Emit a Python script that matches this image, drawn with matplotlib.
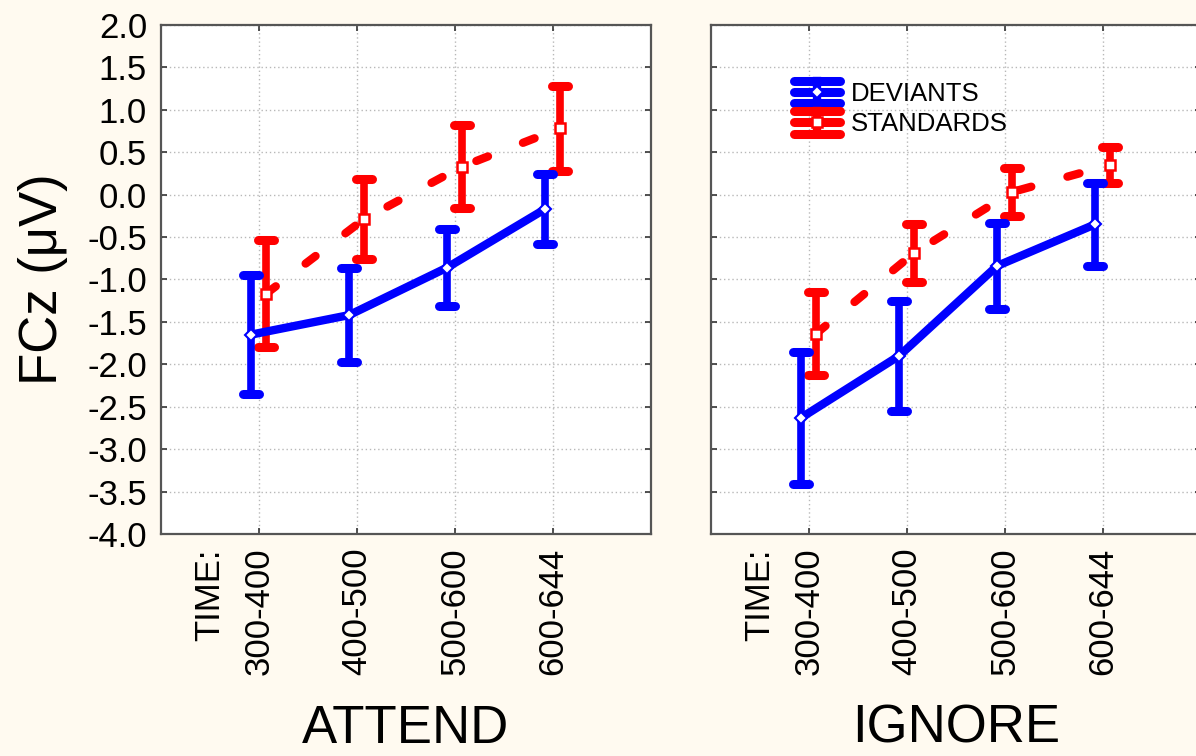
import matplotlib
matplotlib.use('Agg')
import matplotlib.pyplot as plt
from matplotlib.lines import Line2D
from matplotlib.markers import MarkerStyle
from matplotlib.legend_handler import HandlerBase

plt.rcParams['font.family'] = ['Liberation Sans', 'DejaVu Sans']
plt.rcParams['axes.unicode_minus'] = False
plt.rcParams['lines.scale_dashes'] = False

# ---- data ----
times = ['300-400', '400-500', '500-600', '600-644']
y_ticks = [-4.0, -3.5, -3.0, -2.5, -2.0, -1.5, -1.0, -0.5, 0.0, 0.5, 1.0, 1.5, 2.0]

attend_dev_mean = [-1.65, -1.42, -0.86, -0.17]
attend_dev_err = [0.70, 0.55, 0.45, 0.41]
attend_std_mean = [-1.17, -0.29, 0.33, 0.78]
attend_std_err = [0.63, 0.47, 0.49, 0.50]

ignore_dev_mean = [-2.63, -1.90, -0.84, -0.35]
ignore_dev_err = [0.78, 0.65, 0.51, 0.49]
ignore_std_mean = [-1.64, -0.69, 0.03, 0.35]
ignore_std_err = [0.49, 0.34, 0.28, 0.21]

BG = '#FFFAF0'
BLUE = '#0000FF'
RED = '#FF0000'
LW = 6
ELW = 5.5
DEV_SHIFT = -0.08
STD_SHIFT = 0.07


class ErrHandler(HandlerBase):
    """Legend glyph: horizontal line with caps above/below, like the original."""
    def create_artists(self, legend, orig_handle, xdescent, ydescent,
                       width, height, fontsize, trans):
        c = orig_handle.get_color()
        x0, x1 = -xdescent + 2, -xdescent + width - 2
        yc = -ydescent + height / 2
        h = height * 0.62
        xm = (x0 + x1) / 2
        arts = []
        for yy in (yc - h, yc, yc + h):
            arts.append(Line2D([x0, x1], [yy, yy], color=c, lw=6.5,
                               solid_capstyle='round', transform=trans))
        arts.append(Line2D([xm, xm], [yc - h, yc + h], color=c, lw=6,
                           transform=trans))
        arts.append(Line2D([xm], [yc], marker=orig_handle.get_marker(),
                           ms=orig_handle.get_markersize(), mfc='white',
                           mec=c, mew=orig_handle.get_markeredgewidth(),
                           ls='none', transform=trans))
        return arts


def draw_series(ax, means, errs, shift, color, marker, ms, mew, dashed, z):
    xs = [i + shift for i in range(len(means))]
    eb = ax.errorbar(xs, means, yerr=errs, fmt='none', ecolor=color,
                     elinewidth=ELW, capsize=6, capthick=6.5, zorder=z)
    for cl in eb[1]:
        cl.set_marker(MarkerStyle('_', capstyle='round'))
    if dashed:
        ln, = ax.plot(xs, means, color=color, lw=LW, zorder=z,
                      dash_capstyle='round')
        ln.set_dashes((9, 27))
    else:
        ax.plot(xs, means, color=color, lw=LW, zorder=z,
                solid_capstyle='round', solid_joinstyle='round')
    ax.plot(xs, means, ls='none', marker=marker, ms=ms, mfc='white',
            mec=color, mew=mew, zorder=z + 0.5)


def style_axes(ax, title, show_ylabels):
    ax.set_facecolor('white')
    ax.set_xlim(-1, 4)
    ax.set_ylim(-4, 2)
    ax.set_yticks(y_ticks)
    ax.set_yticklabels([f'{v:.1f}' for v in y_ticks] if show_ylabels else [])
    ax.set_xticks(range(len(times)))
    ax.set_xticklabels(times, rotation=90, va='top')
    ax.tick_params(direction='in', length=4.5, width=1.2, color='#333333',
                   top=True, right=True, labelsize=25, pad=10)
    ax.grid(True, ls=(0, (1, 2)), color='#b8b8b8', lw=1, zorder=0)
    ax.set_axisbelow(True)
    for sp in ax.spines.values():
        sp.set_color('#555555')
        sp.set_linewidth(1.6)
    ax.text(-0.5, -0.028, 'TIME:', transform=ax.get_xaxis_transform(),
            rotation=90, ha='center', va='top', fontsize=25)
    ax.text(0.5, -0.41, title, transform=ax.transAxes, ha='center',
            va='baseline', fontsize=38)


fig = plt.figure(figsize=(11.96, 7.56), dpi=100, facecolor=BG)
ax1 = fig.add_axes([0.1346, 0.2937, 0.4097, 0.6733])
ax2 = fig.add_axes([0.5945, 0.2937, 0.4097, 0.6733])

draw_series(ax1, attend_std_mean, attend_std_err, STD_SHIFT, RED, 's', 7, 1.8, True, 3)
draw_series(ax1, attend_dev_mean, attend_dev_err, DEV_SHIFT, BLUE, 'D', 6, 1.5, False, 4)
draw_series(ax2, ignore_std_mean, ignore_std_err, STD_SHIFT, RED, 's', 7, 1.8, True, 3)
draw_series(ax2, ignore_dev_mean, ignore_dev_err, DEV_SHIFT, BLUE, 'D', 6, 1.5, False, 4)

style_axes(ax1, 'ATTEND', True)
style_axes(ax2, 'IGNORE', False)

ax1.text(-0.241, 0.5, 'FCz (\u03bcV)', transform=ax1.transAxes, rotation=90,
         ha='center', va='center', fontsize=38)

h_dev = Line2D([], [], color=BLUE, marker='D', ms=6, mew=1.5)
h_std = Line2D([], [], color=RED, marker='s', ms=7, mew=1.8)
ax2.legend([h_dev, h_std], ['DEVIANTS', 'STANDARDS'],
           handler_map={Line2D: ErrHandler()}, loc='upper left',
           bbox_to_anchor=(0.163, 0.888), frameon=False, fontsize=18.5,
           borderpad=0, borderaxespad=0, handlelength=2.0,
           handletextpad=0.35, labelspacing=0.25)

fig.savefig('out.png', dpi=100, facecolor=BG)
